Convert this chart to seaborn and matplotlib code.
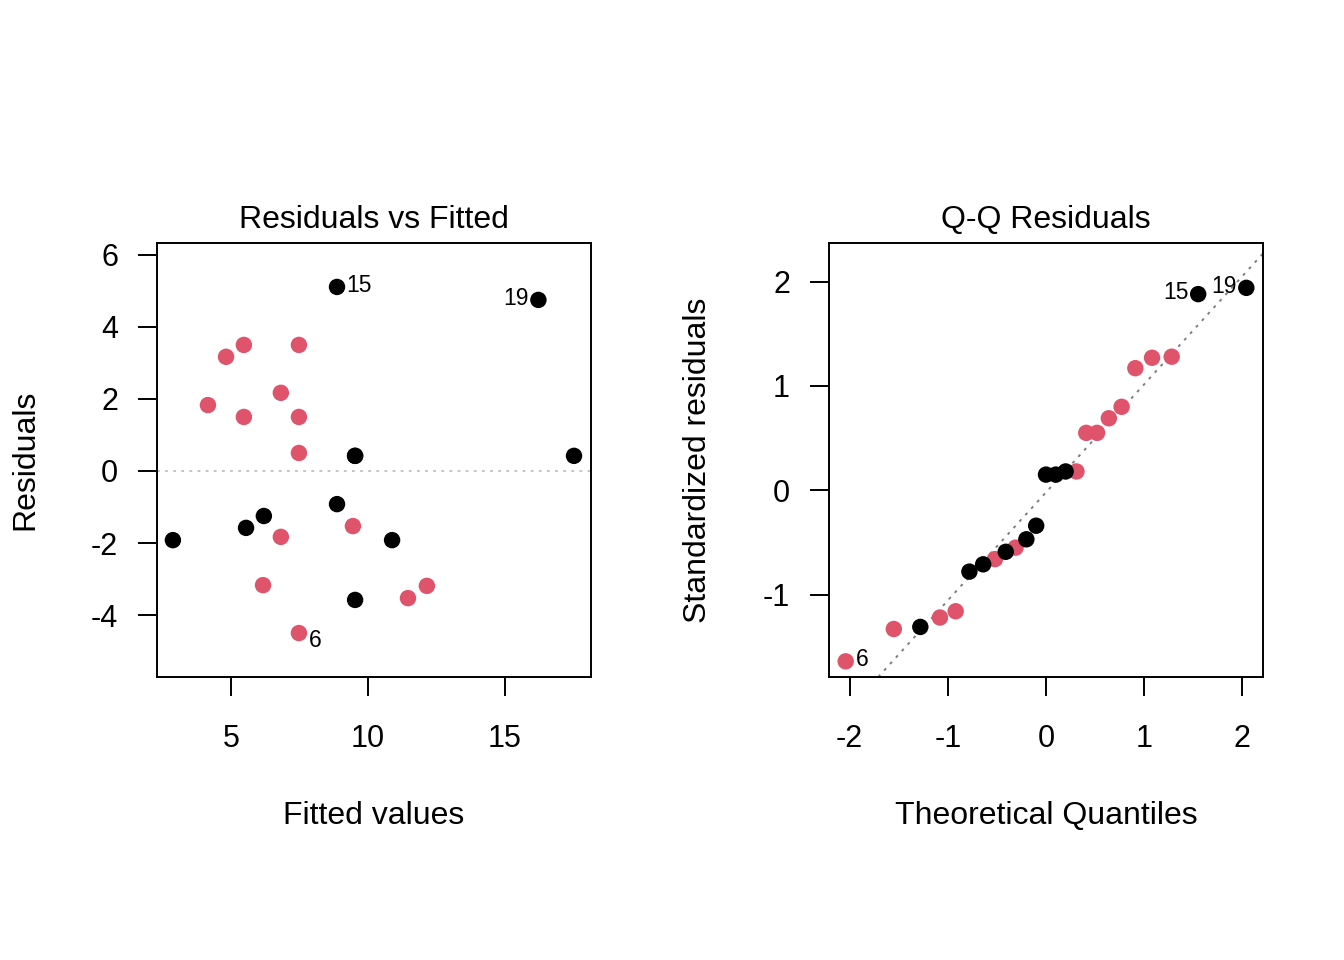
import pandas as pd
import numpy as np

import matplotlib
matplotlib.use("Agg")
import matplotlib.pyplot as plt
import seaborn as sns

sns.set_theme(style="white")
plt.rcParams['font.family'] = ['Liberation Sans', 'DejaVu Sans']
plt.rcParams['text.color'] = 'black'
plt.rcParams['axes.labelcolor'] = 'black'
plt.rcParams['xtick.color'] = 'black'
plt.rcParams['ytick.color'] = 'black'

# Residuals vs Fitted
fitted_red = [4.82, 5.47, 7.48, 4.16, 5.47, 6.82, 7.48, 7.48, 9.45, 6.82, 6.17, 11.46, 12.15, 7.48]
resid_red = [3.17, 3.50, 3.50, 1.83, 1.50, 2.17, 1.50, 0.50, -1.53, -1.83, -3.17, -3.53, -3.19, -4.50]
fitted_black = [8.87, 16.22, 17.52, 9.53, 9.53, 8.87, 6.20, 5.55, 2.88, 10.88, 9.53]
resid_black = [5.11, 4.75, 0.42, 0.42, 0.42, -0.92, -1.25, -1.58, -1.92, -1.92, -3.58]

# Q-Q Residuals
theo_red = [-2.04, -1.55, -1.08, -0.92, -0.52, -0.31, 0.31, 0.41, 0.52, 0.64, 0.77, 0.91, 1.08, 1.28]
std_red = [-1.64, -1.33, -1.22, -1.16, -0.66, -0.55, 0.18, 0.55, 0.55, 0.69, 0.80, 1.17, 1.27, 1.28]
theo_black = [-1.28, -0.78, -0.64, -0.41, -0.20, -0.10, 0.00, 0.10, 0.20, 1.55, 2.04]
std_black = [-1.31, -0.78, -0.71, -0.59, -0.47, -0.34, 0.15, 0.15, 0.18, 1.88, 1.94]

# reference line through the quartiles
qq_intercept = -0.02
qq_slope = 1.036

# labelled observations: (label, x, y, side)
rvf_labels = [("15", 8.87, 5.11, "right"), ("19", 16.22, 4.75, "left"), ("6", 7.48, -4.50, "right_low")]
qq_labels = [("15", 1.55, 1.88, "left"), ("19", 2.04, 1.94, "left"), ("6", -2.04, -1.64, "right")]

red = "#DF536B"
fs = 23
fs_tick = 22


def make_df(x, y, xr, yr):
    return pd.DataFrame({
        "x": list(xr) + list(x),
        "y": list(yr) + list(y),
        "grp": ["red"] * len(xr) + ["black"] * len(x),
    })


def label_points(ax, labels):
    for text, x, y, side in labels:
        if side == "left":
            off, ha = (-7, 1), "right"
        elif side == "right_low":
            off, ha = (7, -5), "left"
        else:
            off, ha = (7, 1), "left"
        ax.annotate(text, xy=(x, y), xytext=off, textcoords="offset points",
                    ha=ha, va="center", fontsize=16.5, color="black")


def style_axes(ax):
    for sp in ax.spines.values():
        sp.set_visible(True)
        sp.set_color("black")
        sp.set_linewidth(1.4)
    ax.tick_params(axis="both", which="major", direction="out", length=14, width=1.4,
                   color="black", labelcolor="black", labelsize=fs_tick, left=True, bottom=True)
    ax.tick_params(axis="x", pad=20)
    ax.tick_params(axis="y", pad=14)
    ax.grid(False)


fig = plt.figure(figsize=(13.44, 9.6), dpi=100)
ax1 = fig.add_axes([157 / 1344, 1 - 677 / 960, 434 / 1344, 434 / 960])
ax2 = fig.add_axes([829 / 1344, 1 - 677 / 960, 434 / 1344, 434 / 960])

# Left panel
df1 = make_df(fitted_black, resid_black, fitted_red, resid_red)
ax1.axhline(0, color="#BEBEBE", ls=(0, (1.5, 3)), lw=1.3, zorder=1)
sns.scatterplot(data=df1, x="x", y="y", hue="grp", palette={"red": red, "black": "black"},
                s=140, linewidth=0, legend=False, ax=ax1, zorder=3)
ax1.set_xlim(2.30, 18.14)
ax1.set_ylim(-5.72, 6.33)
ax1.set_xticks([5, 10, 15])
ax1.set_yticks([-4, -2, 0, 2, 4, 6])
ax1.set_yticklabels(["-4", "-2", "0", "2", "4", "6"])
ax1.set_xlabel("Fitted values", fontsize=fs, labelpad=34)
ax1.set_ylabel("Residuals", fontsize=fs, labelpad=36)
ax1.set_title("Residuals vs Fitted", fontsize=fs, pad=11)
label_points(ax1, rvf_labels)
style_axes(ax1)

# Right panel
df2 = make_df(theo_black, std_black, theo_red, std_red)
ax2.axline((0, qq_intercept), slope=qq_slope, color="#7F7F7F", ls=(0, (1.5, 3)), lw=1.4, zorder=1)
sns.scatterplot(data=df2, x="x", y="y", hue="grp", palette={"red": red, "black": "black"},
                s=140, linewidth=0, legend=False, ax=ax2, zorder=3)
ax2.set_xlim(-2.21, 2.21)
ax2.set_ylim(-1.79, 2.37)
ax2.set_xticks([-2, -1, 0, 1, 2])
ax2.set_xticklabels(["-2", "-1", "0", "1", "2"])
ax2.set_yticks([-1, 0, 1, 2])
ax2.set_yticklabels(["-1", "0", "1", "2"])
ax2.set_xlabel("Theoretical Quantiles", fontsize=fs, labelpad=34)
ax2.set_ylabel("Standardized residuals", fontsize=fs, labelpad=36)
ax2.set_title("Q-Q Residuals", fontsize=fs, pad=11)
label_points(ax2, qq_labels)
style_axes(ax2)

fig.savefig("out.png", dpi=100)
